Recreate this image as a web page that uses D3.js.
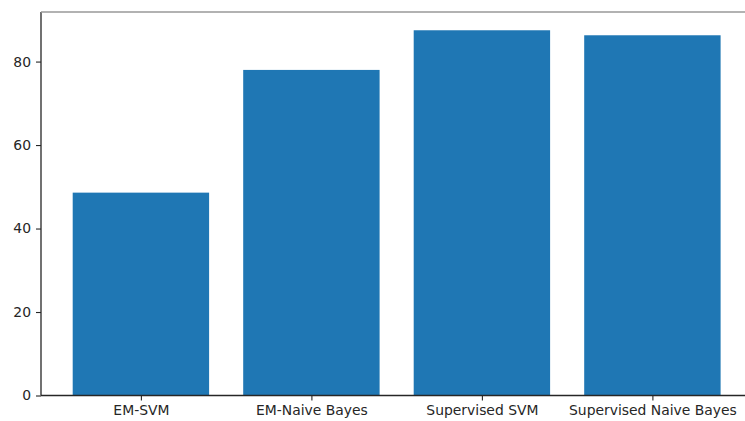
<!DOCTYPE html>
<html><head><meta charset="utf-8">
<script src="https://cdn.jsdelivr.net/npm/d3@7"></script>
<style>html,body{margin:0;padding:0;background:#fff;}svg{display:block;}</style>
</head><body><svg id="c" width="745" height="421"></svg>
<script>
const categories = ["EM-SVM", "EM-Naive Bayes", "Supervised SVM", "Supervised Naive Bayes"];
const values = [48.6, 78.0, 87.5, 86.3];
const yTicks = [0, 20, 40, 60, 80];

(function () {
const svg = d3.select("#c");
const mLeft = 41, mTop = 12, mBottom = 395.5, plotRight = 760;
const font = "DejaVu Sans, sans-serif";
const fs = 13.9;
const ink = "#262626";

const x = d3.scaleLinear().domain([-0.6, categories.length - 1 + 0.6]).range([38.6, 38.6 + 4.2 * 170.5]);
const yMax = d3.max(values) * 1.05;
const y = d3.scaleLinear().domain([0, yMax]).range([mBottom, mTop]);

const barW = x(0.4) - x(-0.4);
svg.append("g").selectAll("rect").data(values).join("rect")
  .attr("x", (d, i) => x(i) - barW / 2)
  .attr("y", d => y(d))
  .attr("width", barW)
  .attr("height", d => y(0) - y(d))
  .attr("fill", "#1f77b4");

const yAxis = svg.append("g").attr("transform", `translate(${mLeft},0)`)
  .call(d3.axisLeft(y).tickValues(yTicks).tickSize(5).tickPadding(5).tickFormat(d3.format("d")));
yAxis.select(".domain").remove();
yAxis.selectAll("line").attr("stroke", ink).attr("stroke-width", 1.1);
yAxis.selectAll("text").attr("font-family", font).attr("font-size", fs).attr("fill", ink);

const xAxis = svg.append("g").attr("transform", `translate(0,${mBottom})`)
  .call(d3.axisBottom(x).tickValues(d3.range(categories.length)).tickSize(5).tickPadding(5)
    .tickFormat(i => categories[i]));
xAxis.select(".domain").remove();
xAxis.selectAll("line").attr("stroke", ink).attr("stroke-width", 1.1);
xAxis.selectAll("text").attr("font-family", font).attr("font-size", fs).attr("fill", ink);

const sp = svg.append("g").attr("stroke", ink).attr("stroke-width", 1.3).attr("fill", "none");
sp.append("line").attr("x1", mLeft).attr("x2", mLeft).attr("y1", mTop).attr("y2", mBottom);
sp.append("line").attr("x1", mLeft).attr("x2", plotRight).attr("y1", mBottom).attr("y2", mBottom);
sp.append("line").attr("x1", mLeft).attr("x2", plotRight).attr("y1", mTop).attr("y2", mTop).attr("stroke", "#999");
})();
</script></body></html>
